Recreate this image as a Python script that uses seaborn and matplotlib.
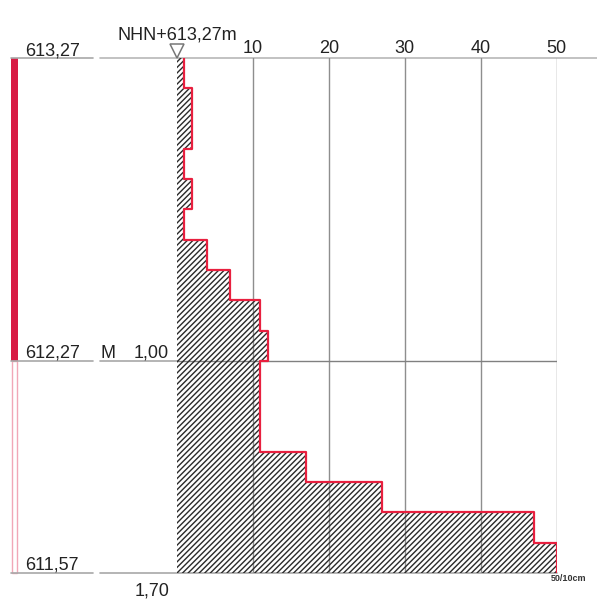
import numpy as np
import pandas as pd
import matplotlib
matplotlib.use("Agg")
import matplotlib.pyplot as plt
import seaborn as sns

# Dynamic probing profile: blows per 10 cm penetration
depth_from = [0.0, 0.1, 0.2, 0.3, 0.4, 0.5, 0.6, 0.7, 0.8, 0.9,
              1.0, 1.1, 1.2, 1.3, 1.4, 1.5, 1.6]
depth_to = [0.1, 0.2, 0.3, 0.4, 0.5, 0.6, 0.7, 0.8, 0.9, 1.0,
            1.1, 1.2, 1.3, 1.4, 1.5, 1.6, 1.7]
blows_n10 = [1, 2, 2, 1, 2, 1, 4, 7, 11, 12, 11, 11, 11, 17, 27, 47, 50]

x_ticks = [10, 20, 30, 40, 50]
x_tick_labels = ["10", "20", "30", "40", "50"]

elev_depths = [0.0, 1.00, 1.70]
elev_labels = ["613,27", "612,27", "611,57"]
layer_depth = 1.00
layer_label = "1,00"
layer_code = "M"
end_depth = 1.70
end_label = "1,70"
head_label = "NHN+613,27m"
unit_label = "50/10cm"

sns.set_style("white")
plt.rcParams["font.family"] = ["Liberation Sans", "DejaVu Sans"]
plt.rcParams["hatch.linewidth"] = 1.0

W, H = 597, 607
fig = plt.figure(figsize=(W / 100, H / 100), dpi=100)

# Overlay in pixel units for the annotation column
ov = fig.add_axes([0, 0, 1, 1], zorder=0)
ov.set_xlim(0, W)
ov.set_ylim(H, 0)
ov.axis("off")

# Main probing axes
x0_px, x1_px, y0_px, y1_px = 176.7, 556.7, 58.0, 573.0
ax = fig.add_axes([x0_px / W, 1 - y1_px / H, (x1_px - x0_px) / W, (y1_px - y0_px) / H],
                  zorder=2)
ax.set_facecolor("none")
ax.set_xlim(0, 50)
ax.set_ylim(end_depth, 0)

df = pd.DataFrame({"top": depth_from, "bottom": depth_to, "n10": blows_n10})
x_step = np.repeat(df["n10"].to_numpy(), 2)
y_step = np.column_stack([df["top"].to_numpy(), df["bottom"].to_numpy()]).ravel()

# vertical grid lines and layer boundary
for xt in x_ticks:
    ax.axvline(xt, color="#8e8e8e", lw=1.0, zorder=1)
ax.axhline(layer_depth, color="#808080", lw=1.0, zorder=1)

# hatched area under the profile
ax.fill_betweenx(y_step, 0, x_step, facecolor="none", edgecolor="#2a2a2a",
                 hatch="//////", linewidth=0, zorder=2)

# red step outline of the blow counts
prof = pd.DataFrame({"n": x_step, "d": y_step, "o": np.arange(len(x_step))})
sns.lineplot(data=prof, x="n", y="d", sort=False, estimator=None,
             color="#e8203f", lw=1.6, ax=ax, zorder=3)

ax.set_xlabel("")
ax.set_ylabel("")
ax.xaxis.tick_top()
ax.set_xticks(x_ticks)
ax.set_xticklabels(x_tick_labels, fontsize=13, color="#222222")
ax.tick_params(axis="x", length=0, pad=1)
ax.set_yticks([])
for s in ax.spines.values():
    s.set_visible(False)

# horizontal rules
line_c = "#a8a8a8"
ov.plot([11, 93], [58, 58], color=line_c, lw=1.2)
ov.plot([100, 597], [58, 58], color="#b8b8b8", lw=1.2)
ov.plot([11, 93], [361, 361], color=line_c, lw=1.2)
ov.plot([100, 177], [361, 361], color=line_c, lw=1.2)
ov.plot([11, 93], [573, 573], color=line_c, lw=1.2)
ov.plot([100, 557], [573, 573], color=line_c, lw=1.2)

# stratigraphic column: filled part above layer boundary, outline below
ov.add_patch(plt.Rectangle((11, 58), 6.5, 303, facecolor="#d81b44", edgecolor="none"))
ov.add_patch(plt.Rectangle((11.5, 361), 5.5, 212, facecolor="none",
                           edgecolor="#f1a7b7", lw=1.0))

# elevation labels
for lbl, yy in zip(elev_labels, [55, 358, 570]):
    ov.text(25, yy, lbl, fontsize=13, color="#222222", ha="left", va="baseline")

ov.text(100, 358, layer_code, fontsize=13, color="#222222", ha="left", va="baseline")
ov.text(169, 358, layer_label, fontsize=13, color="#222222", ha="right", va="baseline")
ov.text(169, 596, end_label, fontsize=13, color="#222222", ha="right", va="baseline")

ov.text(177, 39, head_label, fontsize=13, color="#222222", ha="center", va="baseline")
ov.plot(177, 50.5, marker="v", ms=9.5, mfc="white", mec="#777777", mew=1.1)

ov.text(551, 581, unit_label, fontsize=6.5, color="#333333", ha="left", va="baseline",
        fontweight="bold")

fig.savefig("out.png", dpi=100)
